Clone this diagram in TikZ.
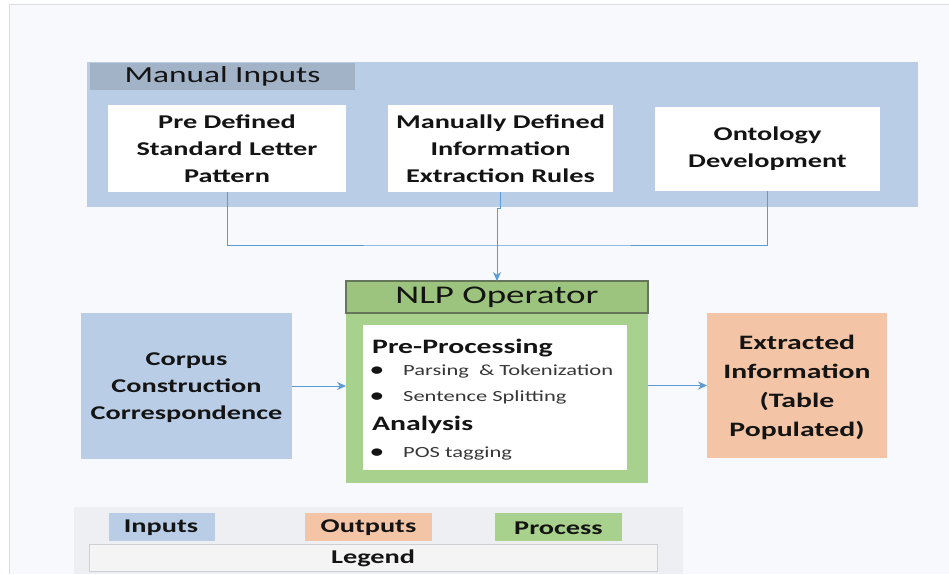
\documentclass[tikz,border=0pt]{standalone}
\usepackage{fontspec}
\setmainfont{Carlito}[FakeStretch=1.45]
\usetikzlibrary{arrows.meta}
\definecolor{pagebg}{HTML}{F8F9FC}
\definecolor{framegray}{HTML}{DADDE3}
\definecolor{inblue}{HTML}{B9CDE6}
\definecolor{hdrblue}{HTML}{A2B3C8}
\definecolor{procgreen}{HTML}{A9D18E}
\definecolor{hdrgreen}{HTML}{9CC47E}
\definecolor{hdredge}{HTML}{66765A}
\definecolor{outorange}{HTML}{F3C5A6}
\definecolor{legbg}{HTML}{EDEFF2}
\definecolor{legbar}{HTML}{F4F4F4}
\definecolor{legedge}{HTML}{CDCFD2}
\definecolor{linkblue}{HTML}{5B9BD5}
\definecolor{ink}{HTML}{141414}
\tikzset{
  panel/.style={draw=none, inner sep=0pt, outer sep=0pt},
  whitebox/.style={panel, fill=white, align=center, text=ink,
    font=\bfseries\fontsize{19.5}{27}\selectfont},
  bigtext/.style={align=center, text=ink, inner sep=0pt,
    font=\bfseries\fontsize{19.5}{27}\selectfont},
  listhead/.style={anchor=base west, inner sep=0pt, text=ink,
    font=\bfseries\fontsize{20.5}{24}\selectfont},
  listitem/.style={anchor=base west, inner sep=0pt, text=ink!85,
    font=\fontsize{15.5}{18}\selectfont},
  dot/.style={anchor=base, inner sep=0pt, text=ink,
    font=\fontsize{21}{18}\selectfont},
  legtext/.style={inner sep=0pt, text=ink,
    font=\bfseries\fontsize{19.5}{24}\selectfont},
  link/.style={draw=linkblue, line width=0.9pt},
  linkarrow/.style={link, -{Stealth[length=9pt,width=8pt]}}
}
\begin{document}
\begin{tikzpicture}[x=1pt,y=-1pt]
  % page and frame
  \fill[white] (0,0) rectangle (949,574);
  \useasboundingbox (0,0) rectangle (949,574);
  \fill[pagebg] (9,4) rectangle (949,574);
  \draw[framegray, line width=1pt] (9,574) -- (9,4) -- (949,4);

  % manual inputs panel
  \node[panel, fill=inblue, minimum width=831pt, minimum height=145pt] (manual) at (502.5,134.5) {};
  \node[panel, fill=hdrblue, minimum width=265pt, minimum height=27pt,
        font=\fontsize{23}{26}\selectfont, text=ink] (manualhdr) at (222.5,76) {Manual Inputs};
  \node[whitebox, minimum width=238pt, minimum height=87pt] (b1) at (227,148.5)
    {Pre Defined\\Standard Letter\\Pattern};
  \node[whitebox, minimum width=225pt, minimum height=87pt] (b2) at (500.5,148.5)
    {Manually Defined\\Information\\Extraction Rules};
  \node[whitebox, minimum width=225pt, minimum height=84pt] (b3) at (767.5,149)
    {Ontology\\Development};

  % NLP operator
  \node[panel, fill=procgreen, minimum width=302pt, minimum height=202pt] (nlp) at (497,382) {};
  \node[panel, fill=hdrgreen, draw=hdredge, line width=1.6pt, minimum width=302pt, minimum height=32pt,
        font=\fontsize{25.5}{28}\selectfont, text=ink] (nlphdr) at (497,297) {\raisebox{-1pt}{NLP Operator}};
  \node[panel, fill=white, minimum width=264pt, minimum height=145pt] (nlpin) at (495,397.5) {};

  \node[listhead] (pre) at (372,353) {Pre-Processing};
  \node[dot] (d1) at (377,376) {\textbullet};
  \node[listitem] (t1) at (403,375) {Parsing\ \ \& Tokenization};
  \node[dot] (d2) at (377,402) {\textbullet};
  \node[listitem] (t2) at (403,401) {Sentence Splitting};
  \node[listhead] (ana) at (372,430) {Analysis};
  \node[dot] (d3) at (377,458) {\textbullet};
  \node[listitem] (t3) at (403,457) {POS tagging};

  % corpus input and extracted output
  \node[panel, fill=inblue, minimum width=211pt, minimum height=146pt] (corpus) at (186.5,386) {};
  \node[bigtext] (corpustext) at (186.5,388) {Corpus\\Construction\\Correspondence};
  \node[panel, fill=outorange, minimum width=180pt, minimum height=145pt] (out) at (797,385.5) {};
  \node[bigtext, font=\bfseries\fontsize{20.5}{29}\selectfont] (outtext) at (797,387.5)
    {Extracted\\Information\\(Table\\Populated)};

  % connectors
  \coordinate (bus) at (497,245);
  \draw[link] (b1.south) |- (bus) -| (b3.south);
  \coordinate (jog) at (500.5,208);
  \draw[linkarrow] (b2.south) -- (jog) -- ++(-3.5,0) -- (nlp.north);
  \draw[linkarrow] (corpus.east) -- (corpus.east -| nlp.west);
  \draw[linkarrow] (out.west -| nlp.east) -- (out.west);

  % legend
  \node[panel, fill=legbg, minimum width=609pt, minimum height=67pt] (legend) at (378.5,540.5) {};
  \node[panel, fill=inblue, minimum width=106pt, minimum height=28pt] (legin) at (162,527) {};
  \node[legtext] (legintext) at (161,528) {Inputs};
  \node[panel, fill=outorange, minimum width=127pt, minimum height=28pt] (legout) at (368.5,527) {};
  \node[legtext] (legouttext) at (368.5,528) {Outputs};
  \node[panel, fill=procgreen, minimum width=127pt, minimum height=28pt] (legproc) at (558.5,527) {};
  \node[legtext] (legproctext) at (558.5,528) {Process};
  \node[panel, fill=legbar, draw=legedge, line width=0.8pt, minimum width=568pt, minimum height=27pt] (legbar) at (373,557.5) {};
  \node[legtext] (legbartext) at (373,558.5) {Legend};
\end{tikzpicture}
\end{document}
